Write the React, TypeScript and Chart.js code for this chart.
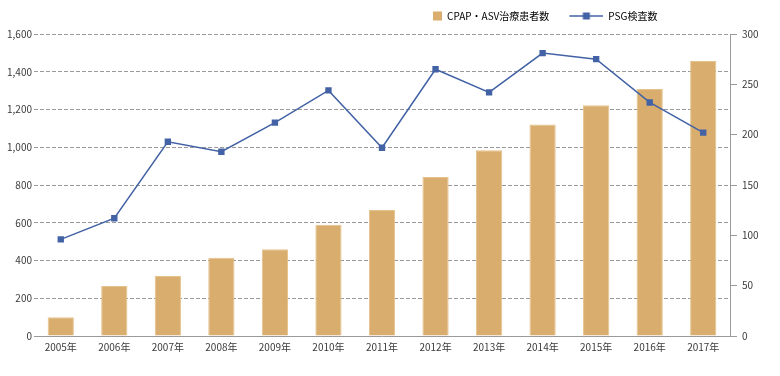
import React, { useEffect, useRef } from "react";
import { Chart, registerables } from "chart.js";

Chart.register(...registerables);

const categories = ["2005年", "2006年", "2007年", "2008年", "2009年", "2010年", "2011年", "2012年", "2013年", "2014年", "2015年", "2016年", "2017年"];
const cpapAsvPatients = [100, 265, 318, 415, 460, 590, 667, 843, 984, 1120, 1222, 1308, 1457];
const psgExams = [96, 117, 193, 183, 212, 244, 187, 265, 242, 281, 275, 232, 202];
const seriesNames = ["CPAP・ASV治療患者数", "PSG検査数"];

const BAR_COLOR = "#D8AD6D";
const BAR_BORDER = "#E6C28C";
const LINE_COLOR = "#4262A5";
const TEXT_COLOR = "#3a3a3a";
const AXIS_COLOR = "#9a9a9a";
const FONT = "'Noto Sans CJK JP', 'Noto Sans', sans-serif";
const LEG_W = 44;

function makeBarIcon(): HTMLCanvasElement {
  const c = document.createElement("canvas");
  c.width = LEG_W;
  c.height = 10;
  const ctx = c.getContext("2d")!;
  ctx.fillStyle = BAR_COLOR;
  ctx.fillRect(LEG_W - 9, 0.5, 9, 9);
  return c;
}

function makeLineIcon(): HTMLCanvasElement {
  const c = document.createElement("canvas");
  c.width = LEG_W;
  c.height = 10;
  const ctx = c.getContext("2d")!;
  ctx.strokeStyle = LINE_COLOR;
  ctx.lineWidth = 1.5;
  ctx.beginPath();
  ctx.moveTo(LEG_W - 34, 5);
  ctx.lineTo(LEG_W, 5);
  ctx.stroke();
  ctx.fillStyle = LINE_COLOR;
  ctx.fillRect(LEG_W - 17 - 3.5, 1.5, 7, 7);
  return c;
}

const legendShift = {
  id: "legendShift",
  afterLayout(chart: any) {
    const lg = chart.legend;
    if (!lg) return;
    const w = lg.right - lg.left;
    const h = lg.bottom - lg.top;
    lg.left = 388;
    lg.right = 388 + w;
    lg.top = lg.top - 3;
    lg.bottom = lg.top + h;
  },
};

export default function App() {
  const ref = useRef<HTMLCanvasElement | null>(null);
  useEffect(() => {
    if (!ref.current) return;
    Chart.defaults.font.family = FONT;
    Chart.defaults.font.size = 10;
    Chart.defaults.color = TEXT_COLOR;
    const icons = [makeBarIcon(), makeLineIcon()];
    const chart = new Chart(ref.current, {
      type: "bar",
      data: {
        labels: categories,
        datasets: [
          {
            type: "bar",
            label: seriesNames[0],
            data: cpapAsvPatients,
            backgroundColor: BAR_COLOR,
            borderColor: BAR_BORDER,
            borderWidth: 1,
            barPercentage: 0.49,
            categoryPercentage: 1,
            yAxisID: "y",
            order: 2,
          },
          {
            type: "line",
            label: seriesNames[1],
            data: psgExams,
            borderColor: LINE_COLOR,
            backgroundColor: LINE_COLOR,
            borderWidth: 1.5,
            pointStyle: "rect",
            pointRadius: 4.5,
            pointBorderWidth: 0,
            tension: 0,
            yAxisID: "y1",
            order: 1,
          } as any,
        ],
      },
      options: {
        animation: false,
        responsive: true,
        maintainAspectRatio: false,
        layout: { padding: { top: 4, left: 0, right: 0, bottom: 0 } },
        plugins: {
          tooltip: { enabled: false },
          legend: {
            position: "top",
            align: "start",
            labels: {
              usePointStyle: true,
              pointStyleWidth: LEG_W,
              boxHeight: 10,
              padding: 10,
              color: TEXT_COLOR,
              font: { size: 10, family: FONT },
              generateLabels: () =>
                seriesNames.map((name, i) => ({
                  text: name,
                  pointStyle: icons[i] as any,
                  fillStyle: "transparent",
                  strokeStyle: "transparent",
                  lineWidth: 0,
                  hidden: false,
                  datasetIndex: i,
                })),
            },
          },
        },
        scales: {
          x: {
            grid: { display: false, drawTicks: false },
            border: { display: true, color: AXIS_COLOR, width: 1 },
            ticks: { padding: 5, color: TEXT_COLOR, font: { size: 10 }, maxRotation: 0, autoSkip: false },
            afterFit: (s: any) => { s.height = 40; },
          },
          y: {
            position: "left",
            min: 0,
            max: 1600,
            ticks: {
              stepSize: 200,
              padding: 2,
              color: TEXT_COLOR,
              font: { size: 10 },
              callback: (v: any) => Number(v).toLocaleString("en-US"),
            },
            grid: {
              color: (c: any) => (c.tick && c.tick.value === 0 ? "rgba(0,0,0,0)" : "#999999"),
              lineWidth: 1,
              drawTicks: false,
              tickLength: 0,
            },
            border: { display: false, dash: [4, 2] },
            afterFit: (s: any) => { s.width = 34; },
          } as any,
          y1: {
            position: "right",
            min: 0,
            max: 300,
            ticks: { stepSize: 50, padding: 5, color: TEXT_COLOR, font: { size: 10 } },
            grid: { drawOnChartArea: false, drawTicks: true, tickLength: 7, color: AXIS_COLOR },
            border: { display: true, color: AXIS_COLOR, width: 1 },
            afterFit: (s: any) => { s.width = 50; },
          },
        },
      },
      plugins: [legendShift],
    });
    return () => chart.destroy();
  }, []);
  return (
    <div style={{ position: "absolute", left: 0, top: 0, width: 780, height: 376, background: "#fff" }}>
      <canvas ref={ref} />
    </div>
  );
}
